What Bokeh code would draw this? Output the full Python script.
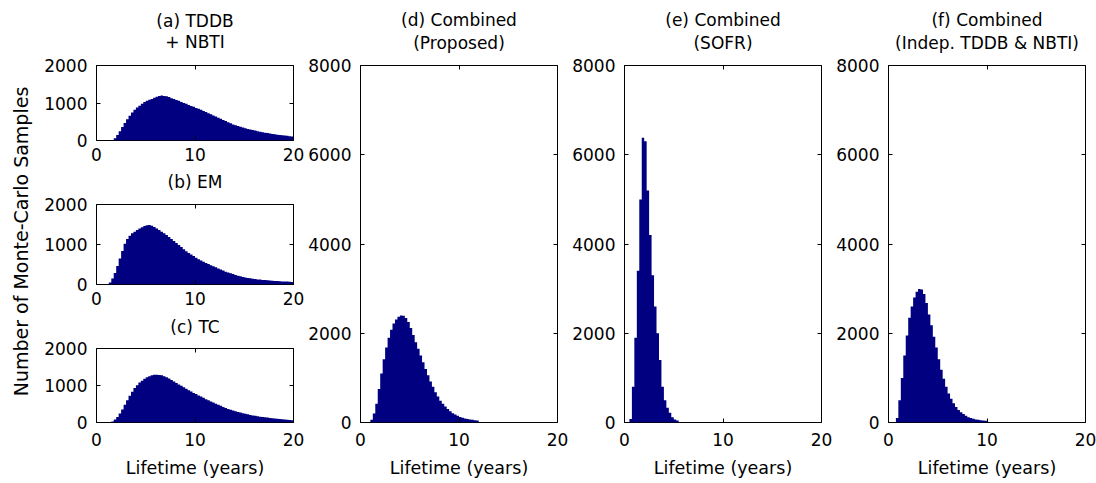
import math
from bokeh.plotting import figure
from bokeh.layouts import row, column
from bokeh.models import Range1d, FixedTicker, LinearAxis, Label, CustomLabelingPolicy
from bokeh.embed import file_html
from bokeh.resources import INLINE

# ---------------- data (histogram counts) ----------------
BIN_W = 0.25                      # bin width in years
X_TICKS = [0, 10, 20]
SMALL_Y_TICKS = [0, 1000, 2000]
TALL_Y_TICKS = [0, 2000, 4000, 6000, 8000]

titles = [["(a) TDDB", "+ NBTI"], ["(b) EM"], ["(c) TC"],
          ["(d) Combined", "(Proposed)"], ["(e) Combined", "(SOFR)"],
          ["(f) Combined", "(Indep. TDDB & NBTI)"]]
x_label = "Lifetime (years)"
y_label = "Number of Monte-Carlo Samples"

tddb_nbti_start = 1.75
tddb_nbti_counts = [60, 150, 250, 360, 470, 570, 660, 750, 820, 880,
                    930, 980, 1030, 1060, 1090, 1110, 1140, 1170, 1190, 1200,
                    1190, 1180, 1160, 1130, 1110, 1080, 1060, 1030, 1000, 980,
                    950, 920, 900, 870, 850, 820, 790, 760, 730, 700,
                    670, 640, 610, 580, 550, 520, 490, 460, 430, 410,
                    390, 370, 350, 330, 310, 295, 280, 265, 250, 235,
                    220, 210, 200, 185, 175, 165, 155, 148, 140, 132,
                    125, 115, 105]

em_start = 1.25
em_counts = [50, 150, 290, 460, 650, 840, 1020, 1140, 1220, 1280,
             1320, 1360, 1400, 1430, 1460, 1480, 1490, 1470, 1440, 1400,
             1360, 1320, 1280, 1240, 1190, 1140, 1090, 1040, 990, 940,
             880, 830, 790, 750, 710, 670, 630, 600, 570, 540,
             510, 480, 455, 430, 400, 375, 350, 320, 300, 280,
             260, 240, 220, 205, 190, 175, 165, 155, 145, 135,
             128, 122, 115, 110, 105, 100, 95, 90, 86, 82,
             78, 75, 72, 68, 65]

tc_start = 1.5
tc_counts = [30, 80, 150, 240, 350, 480, 600, 720, 830, 930,
             1010, 1080, 1130, 1180, 1220, 1250, 1275, 1290, 1290, 1285,
             1275, 1250, 1220, 1190, 1150, 1110, 1070, 1030, 990, 950,
             910, 870, 840, 800, 770, 730, 700, 670, 630, 600,
             570, 540, 510, 480, 450, 420, 390, 365, 345, 325,
             305, 285, 270, 250, 235, 220, 205, 190, 180, 168,
             158, 148, 140, 132, 124, 116, 108, 100, 94, 88,
             80, 74, 66, 58]

proposed_start = 1.0
proposed_counts = [60, 200, 420, 750, 1100, 1420, 1680, 1900, 2080, 2220,
                   2310, 2370, 2400, 2390, 2340, 2250, 2120, 1960, 1800, 1650,
                   1500, 1350, 1200, 1060, 920, 800, 680, 580, 490, 420,
                   360, 300, 250, 210, 180, 150, 125, 105, 90, 78,
                   68, 60, 52, 45]

sofr_start = 0.5
sofr_counts = [76, 800, 1900, 3400, 5000, 6380, 6300, 5200, 4200, 3300,
               2600, 2000, 1400, 800, 500, 330, 220, 120, 70, 45]

indep_start = 0.75
indep_counts = [100, 500, 1000, 1500, 1950, 2350, 2600, 2800, 2930, 2990,
                2980, 2880, 2680, 2420, 2180, 1920, 1680, 1420, 1180, 980,
                800, 650, 530, 430, 350, 280, 230, 190, 150, 120,
                100, 85, 70, 60, 50, 45, 40]

# ---------------- styling ----------------
FONT = "DejaVu Sans"
BAR = "#000080"
TICK_SIZE = "17px"
TITLE_SIZE = "17px"
XLABEL_SIZE = "17.5px"
YLABEL_SIZE = "19px"

# labeling policy that draws no tick labels (for the tick-only box axes)
NO_LABELS = """
const keep = []
for (const i of indices) keep.push(i)
for (const i of keep) indices.unset(i)
return indices
"""


def blank(width, height, x_range):
    f = figure(width=width, height=height, x_range=x_range,
               y_range=Range1d(0, height), min_border=0, title=None,
               output_backend="svg", toolbar_location=None, tools="")
    f.axis.visible = False
    f.xgrid.visible = False
    f.ygrid.visible = False
    f.outline_line_color = None
    f.background_fill_color = "white"
    f.border_fill_color = "white"
    return f


def title_fig(lines, centers_from_top, width, height):
    # this figure's frame is aligned with the panel frame below it (x 0..20)
    f = blank(width, height, Range1d(0, 20))
    for txt, cy in zip(lines, centers_from_top):
        f.add_layout(Label(x=10, y=height - cy, text=txt,
                           text_align="center", text_baseline="middle",
                           text_font=FONT, text_font_size=TITLE_SIZE,
                           text_color="black"))
    return f


def panel(start, counts, ymax, yticks, frame_w, frame_h,
          left, right, top, bottom, with_xlabel, x_standoff):
    p = figure(frame_width=frame_w, frame_height=frame_h,
               x_range=Range1d(0, 20), y_range=Range1d(0, ymax),
               min_border_left=left, min_border_right=right,
               min_border_top=top, min_border_bottom=bottom, title=None,
               output_backend="svg", toolbar_location=None, tools="")
    # histogram as a solid stepped area (bin edges from the bin width)
    edges = [start + BIN_W * i for i in range(len(counts) + 1)]
    p.varea_step(x=edges, y1=[0] * len(edges), y2=list(counts) + [0],
                 step_mode="after", fill_color=BAR)

    p.xgrid.visible = False
    p.ygrid.visible = False
    p.outline_line_color = "black"
    p.outline_line_width = 1
    p.outline_line_alpha = 1
    p.background_fill_color = "white"
    p.border_fill_color = "white"

    xa = p.xaxis[0]
    xa.ticker = FixedTicker(ticks=X_TICKS)
    ya = p.yaxis[0]
    ya.ticker = FixedTicker(ticks=yticks)
    for ax in (xa, ya):
        ax.major_tick_in = 4
        ax.major_tick_out = 0
        ax.major_tick_line_color = "black"
        ax.minor_tick_line_color = None
        ax.axis_line_color = None
        ax.major_label_text_font = FONT
        ax.major_label_text_font_size = TICK_SIZE
        ax.major_label_text_color = "black"
    xa.major_label_standoff = x_standoff
    ya.major_label_standoff = 9
    if with_xlabel:
        xa.axis_label = x_label
        xa.axis_label_text_font = FONT
        xa.axis_label_text_font_size = XLABEL_SIZE
        xa.axis_label_text_font_style = "normal"
        xa.axis_label_text_color = "black"
        xa.axis_label_standoff = 9

    top_ax = LinearAxis(ticker=FixedTicker(ticks=X_TICKS))
    right_ax = LinearAxis(ticker=FixedTicker(ticks=yticks))
    for ax in (top_ax, right_ax):
        ax.major_tick_in = 4
        ax.major_tick_out = 0
        ax.major_tick_line_color = "black"
        ax.minor_tick_line_color = None
        ax.axis_line_color = None
        ax.major_label_policy = CustomLabelingPolicy(code=NO_LABELS)
        ax.major_label_text_font_size = "1px"
        ax.major_label_standoff = 0
    p.add_layout(top_ax, "above")
    p.add_layout(right_ax, "right")
    return p


# left column: frame x 96..293, figure x 38..304
SM_W, SM_L, SM_R = 197, 58, 11
SM_FIG_W = SM_L + SM_W + SM_R

ta = title_fig(titles[0], [20, 41], SM_FIG_W, 52)
pa = panel(tddb_nbti_start, tddb_nbti_counts, 2000, SMALL_Y_TICKS,
           SM_W, 75, SM_L, SM_R, 13, 28, False, 7)
tb = title_fig(titles[1], [13], SM_FIG_W, 26)
pb = panel(em_start, em_counts, 2000, SMALL_Y_TICKS,
           SM_W, 80, SM_L, SM_R, 10, 28, False, 7)
tc = title_fig(titles[2], [14], SM_FIG_W, 26)
pc = panel(tc_start, tc_counts, 2000, SMALL_Y_TICKS,
           SM_W, 74, SM_L, SM_R, 10, 61, True, 10)

# tall panels: frames 197 wide, 357 high (y 65..422)
TL_W, TL_L, TL_R = 197, 56, 11
TL_FIG_W = TL_L + TL_W + TL_R

tall = []
for lines, st, cnt in [(titles[3], proposed_start, proposed_counts),
                       (titles[4], sofr_start, sofr_counts),
                       (titles[5], indep_start, indep_counts)]:
    t = title_fig(lines, [19, 42], TL_FIG_W, 57)
    p = panel(st, cnt, 8000, TALL_Y_TICKS, TL_W, 357, TL_L, TL_R, 8, 61, True, 10)
    tall.append(column(t, p))

# shared y-axis label spanning the three small panels
lab = blank(38, 483, Range1d(0, 38))
lab.add_layout(Label(x=20, y=483 - 241, text=y_label, angle=math.pi / 2,
                     text_align="center", text_baseline="middle",
                     text_font=FONT, text_font_size=YLABEL_SIZE, text_color="black"))

layout = row(lab, column(ta, pa, tb, pb, tc, pc), *tall)

open("out.html", "w").write(file_html(layout, INLINE))
